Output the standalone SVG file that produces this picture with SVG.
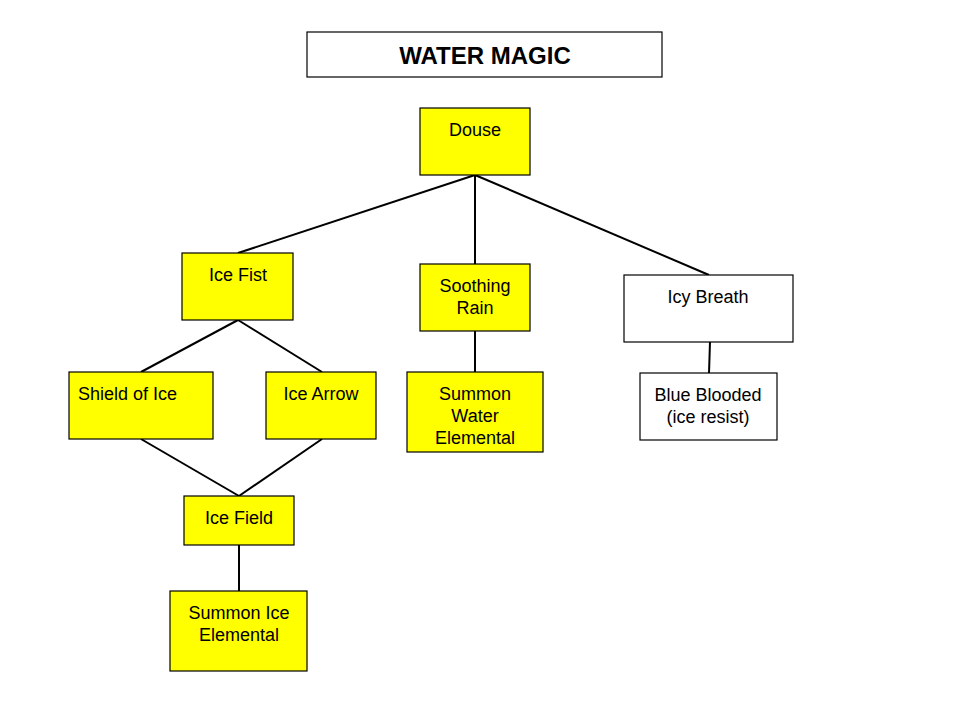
<svg xmlns="http://www.w3.org/2000/svg" width="960" height="720" viewBox="0 0 960 720">
<style>
.box{stroke:#000;stroke-width:1.2}
.y{fill:#ffff00}
.w{fill:#fff}
text{font-family:"Liberation Sans",Arial,sans-serif;font-size:18px;fill:#000;text-anchor:middle}
.title{font-size:24px;font-weight:bold}
.conn line{stroke:#000;stroke-width:2}
</style>
<rect width="960" height="720" fill="#fff"/>
<g id="title"><rect class="box w" x="307" y="32" width="355" height="45"/><text class="title" x="485" y="64">WATER MAGIC</text></g>
<g class="conn" id="connectors">
<line x1="475" y1="175" x2="238" y2="253"/>
<line x1="475" y1="175" x2="475" y2="264"/>
<line x1="475" y1="175" x2="709" y2="275"/>
<line x1="238" y1="320" x2="141" y2="372"/>
<line x1="238" y1="320" x2="322" y2="372"/>
<line x1="141" y1="439" x2="239" y2="496"/>
<line x1="322" y1="439" x2="239" y2="496"/>
<line x1="239" y1="545" x2="239" y2="591"/>
<line x1="475" y1="331" x2="475" y2="372"/>
<line x1="710" y1="342" x2="709" y2="373"/>
</g>
<g id="douse"><rect class="box y" x="420" y="108" width="110" height="67"/><text x="475" y="136">Douse</text></g>
<g id="ice-fist"><rect class="box y" x="182" y="253" width="111" height="67"/><text x="238" y="281">Ice Fist</text></g>
<g id="soothing-rain"><rect class="box y" x="420" y="264" width="110" height="67"/><text x="475" y="292">Soothing</text><text x="475" y="314">Rain</text></g>
<g id="icy-breath"><rect class="box w" x="624" y="275" width="169" height="67"/><text x="708" y="303">Icy Breath</text></g>
<g id="shield-of-ice"><rect class="box y" x="69" y="372" width="144" height="67"/><text x="78" y="400" style="text-anchor:start">Shield of Ice</text></g>
<g id="ice-arrow"><rect class="box y" x="266" y="372" width="110" height="67"/><text x="321" y="400">Ice Arrow</text></g>
<g id="summon-water"><rect class="box y" x="407" y="372" width="136" height="80"/><text x="475" y="400">Summon</text><text x="475" y="422">Water</text><text x="475" y="444">Elemental</text></g>
<g id="blue-blooded"><rect class="box w" x="640" y="373" width="137" height="67"/><text x="708" y="401">Blue Blooded</text><text x="708" y="423">(ice resist)</text></g>
<g id="ice-field"><rect class="box y" x="184" y="496" width="110" height="49"/><text x="239" y="524">Ice Field</text></g>
<g id="summon-ice"><rect class="box y" x="170" y="591" width="137" height="80"/><text x="239" y="619">Summon Ice</text><text x="239" y="641">Elemental</text></g>
</svg>
